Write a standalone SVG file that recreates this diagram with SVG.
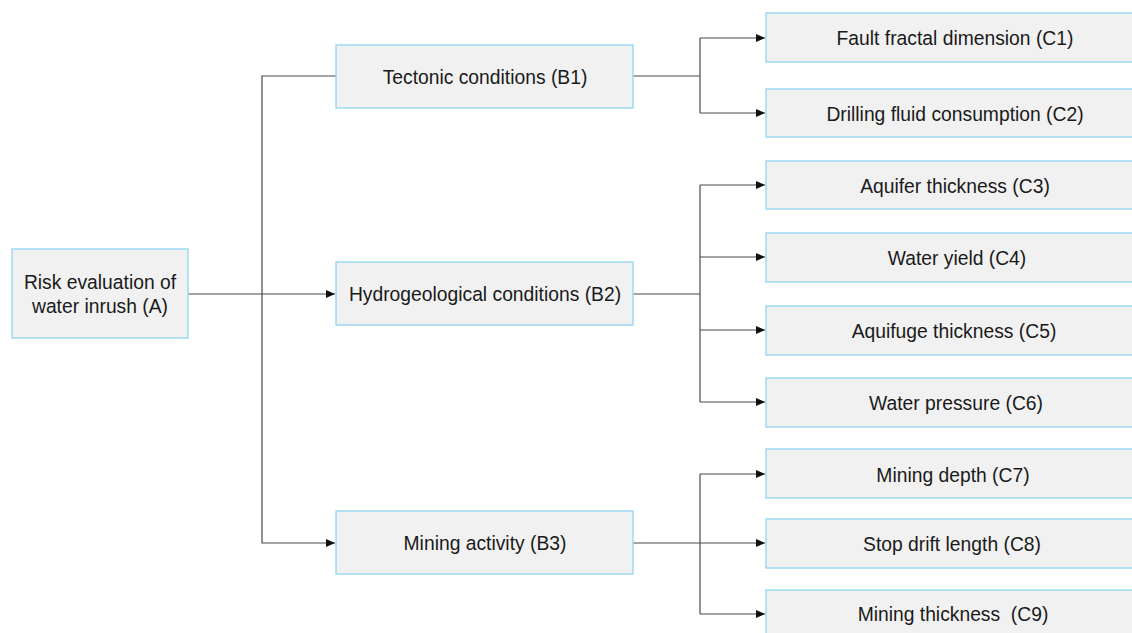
<svg xmlns="http://www.w3.org/2000/svg" width="1132" height="633" viewBox="0 0 1132 633">
<style>
.box{fill:#f1f1f1;stroke:#8fd6f2;stroke-width:1.3}
.t{font-family:"Liberation Sans",Arial,sans-serif;font-size:19.3px;fill:#1a1a1a;text-anchor:middle;dominant-baseline:central}
.c{fill:none;stroke:#4a4a4a;stroke-width:1.2}
</style>
<defs>
<marker id="ah" markerWidth="10" markerHeight="8" refX="9" refY="4" orient="auto" markerUnits="userSpaceOnUse">
<path d="M0,0 L9,4 L0,8 Z" fill="#111"/>
</marker>
</defs>
<rect width="1132" height="633" fill="#fff"/>
<g id="connectors">
<path class="c" d="M188,294 H335" marker-end="url(#ah)"/>
<path class="c" d="M336,76 H262 V543 H335" marker-end="url(#ah)"/>
<path class="c" d="M633,76 H700"/>
<path class="c" d="M700,38 V113"/>
<path class="c" d="M700,38 H765" marker-end="url(#ah)"/>
<path class="c" d="M700,113 H765" marker-end="url(#ah)"/>
<path class="c" d="M633,294 H700"/>
<path class="c" d="M700,185 V402"/>
<path class="c" d="M700,185 H765" marker-end="url(#ah)"/>
<path class="c" d="M700,257 H765" marker-end="url(#ah)"/>
<path class="c" d="M700,330 H765" marker-end="url(#ah)"/>
<path class="c" d="M700,402 H765" marker-end="url(#ah)"/>
<path class="c" d="M633,543 H765" marker-end="url(#ah)"/>
<path class="c" d="M700,474 V614"/>
<path class="c" d="M700,474 H765" marker-end="url(#ah)"/>
<path class="c" d="M700,614 H765" marker-end="url(#ah)"/>
</g>
<g id="A"><rect class="box" x="12" y="249" width="176" height="89"/><text class="t" x="100" y="282">Risk evaluation of</text><text class="t" x="100" y="306">water inrush (A)</text></g>
<g id="B1"><rect class="box" x="336" y="45" width="297" height="63"/><text class="t" x="485" y="77">Tectonic conditions (B1)</text></g>
<g id="B2"><rect class="box" x="336" y="262" width="297" height="63"/><text class="t" x="485" y="294">Hydrogeological conditions (B2)</text></g>
<g id="B3"><rect class="box" x="336" y="511" width="297" height="63"/><text class="t" x="485" y="543">Mining activity (B3)</text></g>
<g id="C1"><rect class="box" x="766" y="13" width="380" height="49"/><text class="t" x="955" y="38">Fault fractal dimension (C1)</text></g>
<g id="C2"><rect class="box" x="766" y="89" width="380" height="48"/><text class="t" x="955" y="114">Drilling fluid consumption (C2)</text></g>
<g id="C3"><rect class="box" x="766" y="161" width="380" height="48"/><text class="t" x="955" y="186">Aquifer thickness (C3)</text></g>
<g id="C4"><rect class="box" x="766" y="233" width="380" height="49"/><text class="t" x="957" y="258">Water yield (C4)</text></g>
<g id="C5"><rect class="box" x="766" y="306" width="380" height="49"/><text class="t" x="954" y="331">Aquifuge thickness (C5)</text></g>
<g id="C6"><rect class="box" x="766" y="378" width="380" height="49"/><text class="t" x="956" y="403">Water pressure (C6)</text></g>
<g id="C7"><rect class="box" x="766" y="449" width="380" height="49"/><text class="t" x="953" y="475">Mining depth (C7)</text></g>
<g id="C8"><rect class="box" x="766" y="519" width="380" height="49"/><text class="t" x="952" y="544">Stop drift length (C8)</text></g>
<g id="C9"><rect class="box" x="766" y="590" width="380" height="60"/><text class="t" x="953" y="614" xml:space="preserve">Mining thickness  (C9)</text></g>
</svg>
